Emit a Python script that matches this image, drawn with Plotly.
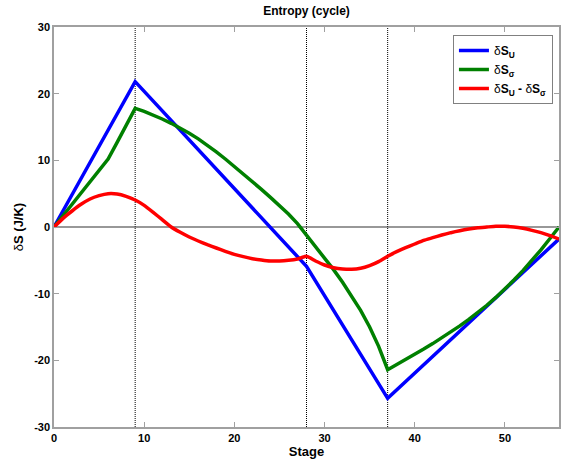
import plotly.graph_objects as go

stage = list(range(0, 57))

blue_x = [0, 9, 28, 37, 56]
blue_y = [0, 21.8, -5.9, -25.7, -1.8]

green_y = [0, 1.7, 3.4, 5.1, 6.8, 8.5, 10.2, 12.7, 15.2, 17.8,
           17.35, 16.8, 16.2, 15.55, 14.85, 14.07, 13.22, 12.3, 11.28, 10.2,
           9.1, 7.95, 6.8, 5.65, 4.45, 3.25, 1.95, 0.5, -1.2,
           -2.9, -4.6, -6.4, -8.3, -10.3, -12.5, -15.0, -17.9, -21.4,
           -20.65, -19.89, -19.11, -18.31, -17.49, -16.64, -15.76, -14.84, -13.87,
           -12.84, -11.74, -10.56, -9.3, -7.96, -6.54, -5.04, -3.42, -1.72, 0.0]

red_y = [0, 1.3, 2.4, 3.4, 4.2, 4.7, 5.0, 4.95, 4.6, 4.05,
         3.25, 2.2, 1.1, 0.0, -0.8, -1.5, -2.1, -2.65, -3.15, -3.65,
         -4.1, -4.45, -4.75, -4.95, -5.1, -5.1, -5.0, -4.8, -4.4,
         -5.1, -5.7, -6.1, -6.3, -6.35, -6.2, -5.8, -5.2, -4.4,
         -3.7, -3.1, -2.55, -2.0, -1.6, -1.2, -0.85, -0.55, -0.3,
         -0.1, 0.0, 0.1, 0.1, 0.0, -0.2, -0.5, -0.85, -1.3, -1.8]

stage_markers = [9, 28, 37]
x_ticks = [0, 10, 20, 30, 40, 50]
y_ticks = [-30, -20, -10, 0, 10, 20, 30]
y_tick_labels = ["-30", "-20", "-10", "0", "10", "20", "30"]

FONT = "Liberation Sans, Arial, sans-serif"

fig = go.Figure()
fig.add_trace(go.Scatter(x=blue_x, y=blue_y, mode="lines", name="δ<b>S<sub>U</sub></b>",
                         line=dict(color="#0000ff", width=3.5)))
fig.add_trace(go.Scatter(x=stage, y=green_y, mode="lines", name="δ<b>S<sub>σ</sub></b>",
                         line=dict(color="#008000", width=3.5)))
fig.add_trace(go.Scatter(x=stage, y=red_y, mode="lines", name="δ<b>S<sub>U</sub> - </b>δ<b>S<sub>σ</sub></b>",
                         line=dict(color="#ff0000", width=3.5, shape="spline", smoothing=0.4)))

for xs in stage_markers:
    fig.add_shape(type="line", x0=xs, x1=xs, y0=-30, y1=30, xref="x", yref="y",
                  line=dict(color="black", width=1, dash="1px,1px"), layer="below")
fig.add_shape(type="line", x0=0, x1=56, y0=0, y1=0, xref="x", yref="y",
              line=dict(color="#333333", width=1.2), layer="below")

axis_common = dict(showgrid=False, zeroline=False, showline=True, linecolor="#a0a0a0",
                   linewidth=1.5, mirror="ticks", ticks="inside", ticklen=5,
                   tickcolor="#a0a0a0", tickwidth=1, automargin=False,
                   tickfont=dict(family=FONT, size=11, color="black", weight="bold"))

W, H = 569, 466
fig.update_layout(
    width=W, height=H,
    margin=dict(l=54, r=10, t=27, b=39),
    paper_bgcolor="white", plot_bgcolor="white",
    title=dict(text="<b>Entropy (cycle)</b>", x=(54 + W - 10) / 2 / W, xanchor="center",
               y=1 - 11 / H, yanchor="middle", yref="container",
               font=dict(family=FONT, size=12, color="black")),
    xaxis=dict(range=[0, 56], tickvals=x_ticks,
               title=dict(text="<b>Stage</b>", font=dict(family=FONT, size=13, color="black"), standoff=0),
               **axis_common),
    yaxis=dict(range=[-30, 30], tickvals=y_ticks, ticktext=y_tick_labels,
               title=dict(text="δ<b>S (J/K)</b>", font=dict(family=FONT, size=13, color="black"), standoff=8),
               **axis_common),
    legend=dict(x=0.988, y=0.98, xanchor="right", yanchor="top",
                bgcolor="white", bordercolor="#808080", borderwidth=1,
                font=dict(family=FONT, size=12, color="black"),
                tracegroupgap=0, itemwidth=30),
    showlegend=True,
)

fig.write_html("out.html", config={"displayModeBar": False},
               post_script="document.body.style.margin='0';document.body.style.overflow='hidden';")
